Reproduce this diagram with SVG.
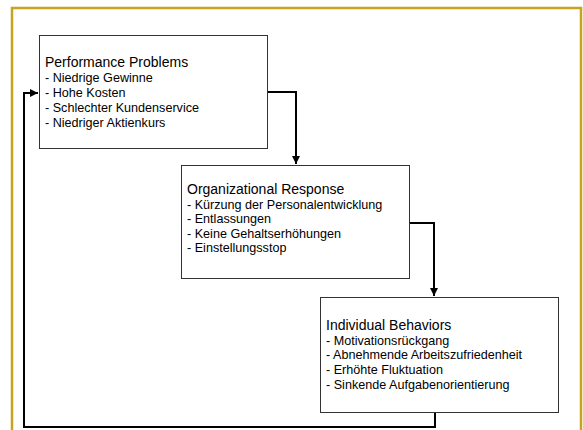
<svg xmlns="http://www.w3.org/2000/svg" width="583" height="430" viewBox="0 0 583 430">
<defs>
<style>
.box{fill:#fff;stroke:#333;stroke-width:1}
.h{font-family:"Liberation Sans",Arial,sans-serif;font-size:14px;fill:#000}
.i{font-family:"Liberation Sans",Arial,sans-serif;font-size:12.6px;fill:#000}
.c{fill:none;stroke:#000;stroke-width:2}
</style>
<marker id="ah" markerWidth="9" markerHeight="9" refX="8" refY="4" orient="auto" markerUnits="userSpaceOnUse">
<path d="M0,0 L8,4 L0,8 z" fill="#000"/>
</marker>
</defs>
<rect x="0" y="0" width="583" height="430" fill="#fff"/>
<rect x="12" y="8" width="569" height="440" fill="none" stroke="#C8A31F" stroke-width="2.5"/>
<g id="connectors">
<path class="c" d="M267,92 H296 V164" marker-end="url(#ah)"/>
<path class="c" d="M409,223 H434 V296" marker-end="url(#ah)"/>
<path class="c" d="M435,412 V427 H24 V93 H38" marker-end="url(#ah)"/>
</g>
<g id="performance-problems">
<rect class="box" x="39.5" y="35.5" width="228" height="113"/>
<text class="h" x="45" y="67">Performance Problems</text>
<text class="i" x="45" y="82">- Niedrige Gewinne</text>
<text class="i" x="45" y="97">- Hohe Kosten</text>
<text class="i" x="45" y="111.5">- Schlechter Kundenservice</text>
<text class="i" x="45" y="126.5">- Niedriger Aktienkurs</text>
</g>
<g id="organizational-response">
<rect class="box" x="181.5" y="165.5" width="228" height="113"/>
<text class="h" x="187" y="194">Organizational Response</text>
<text class="i" x="187" y="208.5">- Kürzung der Personalentwicklung</text>
<text class="i" x="187" y="223">- Entlassungen</text>
<text class="i" x="187" y="237.5">- Keine Gehaltserhöhungen</text>
<text class="i" x="187" y="252">- Einstellungsstop</text>
</g>
<g id="individual-behaviors">
<rect class="box" x="320.5" y="297.5" width="238" height="115"/>
<text class="h" x="326" y="330">Individual Behaviors</text>
<text class="i" x="326" y="344.5">- Motivationsrückgang</text>
<text class="i" x="326" y="359">- Abnehmende Arbeitszufriedenheit</text>
<text class="i" x="326" y="374">- Erhöhte Fluktuation</text>
<text class="i" x="326" y="389">- Sinkende Aufgabenorientierung</text>
</g>
</svg>
